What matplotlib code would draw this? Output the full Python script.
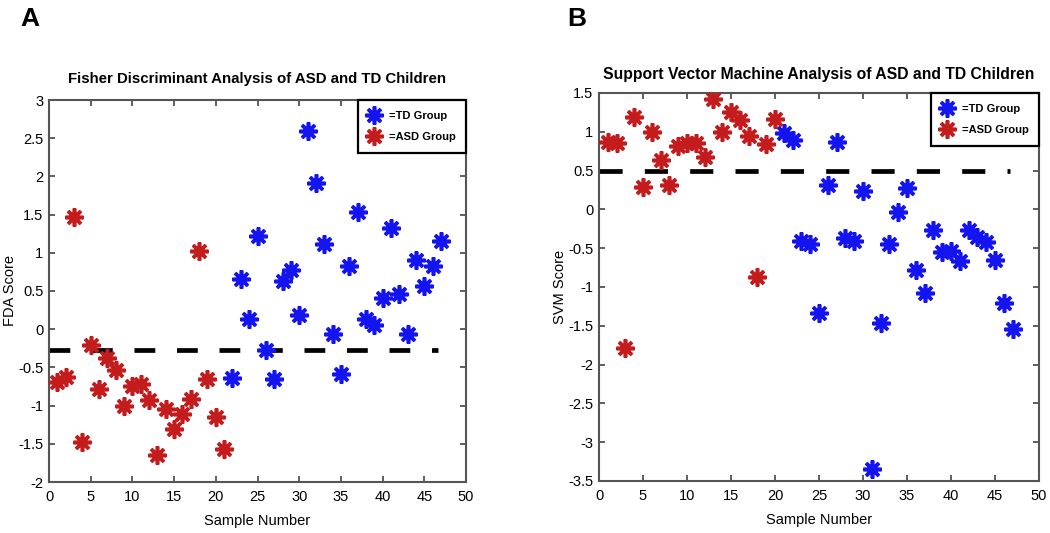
import matplotlib
matplotlib.use("Agg")
import matplotlib.pyplot as plt
from matplotlib.lines import Line2D

# ---------------- data ----------------
fda_asd_x = list(range(1, 22))
fda_asd_y = [-0.69, -0.63, 1.47, -1.48, -0.21, -0.78, -0.38, -0.54, -1.00, -0.74,
             -0.72, -0.93, -1.65, -1.05, -1.30, -1.11, -0.92, 1.03, -0.65, -1.15, -1.57]
fda_td_x = list(range(22, 48))
fda_td_y = [-0.64, 0.66, 0.14, 1.22, -0.27, -0.65, 0.63, 0.77, 0.18, 2.60,
            1.91, 1.12, -0.06, -0.58, 0.83, 1.53, 0.13, 0.05, 0.41, 1.33,
            0.46, -0.06, 0.90, 0.57, 0.83, 1.15]
fda_threshold = -0.27

svm_asd_x = list(range(1, 21))
svm_asd_y = [0.87, 0.86, -1.79, 1.19, 0.29, 1.00, 0.64, 0.31, 0.82, 0.86,
             0.86, 0.67, 1.42, 1.00, 1.25, 1.15, 0.95, -0.87, 0.84, 1.16]
svm_td_x = list(range(21, 48))
svm_td_y = [0.99, 0.89, -0.41, -0.44, -1.33, 0.31, 0.87, -0.37, -0.41, 0.24,
            -3.35, -1.47, -0.45, -0.03, 0.27, -0.78, -1.08, -0.26, -0.55, -0.53,
            -0.67, -0.27, -0.36, -0.42, -0.65, -1.20, -1.54]
svm_threshold = 0.49

threshold_x = [0, 46.7]
x_ticks = list(range(0, 51, 5))
fda_yticks = [3, 2.5, 2, 1.5, 1, 0.5, 0, -0.5, -1, -1.5, -2]
svm_yticks = [1.5, 1, 0.5, 0, -0.5, -1, -1.5, -2, -2.5, -3, -3.5]

titles = ["Fisher Discriminant Analysis of ASD and TD Children",
          "Support Vector Machine Analysis of ASD and TD Children"]
ylabels = ["FDA Score", "SVM Score"]
xlabel = "Sample Number"
legend_labels = ["=TD Group", "=ASD Group"]
panel_letters = ["A", "B"]

# ---------------- style ----------------
BLUE = "#1414f0"
RED = "#c41c1c"
MARK = (8, 2, 0)
SANS = ["Liberation Sans", "DejaVu Sans"]

fig = plt.figure(figsize=(10.5, 5.33), dpi=100)

ax_a = fig.add_axes([49 / 1050, (533 - 482) / 533, 417 / 1050, 382 / 533])
ax_b = fig.add_axes([599 / 1050, (533 - 481) / 533, 440 / 1050, 388 / 533])


def style_axes(ax, ylim, yticks):
    ax.set_xlim(0, 50)
    ax.set_ylim(*ylim)
    ax.set_xticks(x_ticks)
    ax.set_yticks(yticks)
    ax.set_xticklabels([str(t) for t in x_ticks], family=SANS, fontsize=10.5)
    ax.set_yticklabels([("%g" % t) for t in yticks], family=SANS, fontsize=10.5)
    ax.tick_params(axis="x", pad=6)
    ax.tick_params(axis="y", pad=4)
    ax.tick_params(direction="in", top=True, right=True, length=4, width=1.2,
                   color="#444444")
    for s in ax.spines.values():
        s.set_linewidth(1.5)
        s.set_color("#555555")


def draw(ax, asd_x, asd_y, td_x, td_y, thr, dashes):
    ax.plot(td_x, td_y, linestyle="none", marker=MARK, markersize=13,
            markeredgewidth=2.6, color=BLUE, zorder=3)
    ax.plot(asd_x, asd_y, linestyle="none", marker=MARK, markersize=13,
            markeredgewidth=2.6, color=RED, zorder=3)
    ax.plot(threshold_x, [thr, thr], color="black", linewidth=3.4,
            dashes=dashes, solid_capstyle="butt", dash_capstyle="butt", zorder=2)
    handles = [Line2D([], [], linestyle="none", marker=MARK, markersize=13,
                      markeredgewidth=2.6, color=BLUE),
               Line2D([], [], linestyle="none", marker=MARK, markersize=13,
                      markeredgewidth=2.6, color=RED)]
    leg = ax.legend(handles, legend_labels, loc="upper right", borderaxespad=0,
                    frameon=True, fancybox=False, framealpha=1,
                    edgecolor="black", handlelength=1.0, handletextpad=0.8,
                    borderpad=0.95, labelspacing=1.05,
                    prop={"family": SANS, "weight": "bold", "size": 8})
    leg.get_frame().set_linewidth(1.6)
    leg.set_zorder(5)


draw(ax_a, fda_asd_x, fda_asd_y, fda_td_x, fda_td_y, fda_threshold, (4.4, 4.6))
draw(ax_b, svm_asd_x, svm_asd_y, svm_td_x, svm_td_y, svm_threshold, (4.9, 4.7))

style_axes(ax_a, (-2, 3), fda_yticks)
style_axes(ax_b, (-3.5, 1.5), svm_yticks)

ax_a.set_title(titles[0], family=SANS, fontweight="bold", fontsize=10.8, pad=12)
ax_b.set_title(titles[1], family=SANS, fontweight="bold", fontsize=11.3, pad=10)
for ax, yl, xoff in zip([ax_a, ax_b], ylabels, [-0.077, -0.073]):
    ax.set_xlabel(xlabel, family=SANS, fontsize=10.5, labelpad=7)
    ax.set_ylabel(yl, family=SANS, fontsize=10.5)
    ax.yaxis.set_label_coords(xoff, 0.5)

fig.text(30 / 1050, 1 - 19 / 533, panel_letters[0], family=SANS,
         fontweight="bold", fontsize=19, ha="center", va="center")
fig.text(577 / 1050, 1 - 19 / 533, panel_letters[1], family=SANS,
         fontweight="bold", fontsize=19, ha="center", va="center")

fig.savefig("out.png", dpi=100)
